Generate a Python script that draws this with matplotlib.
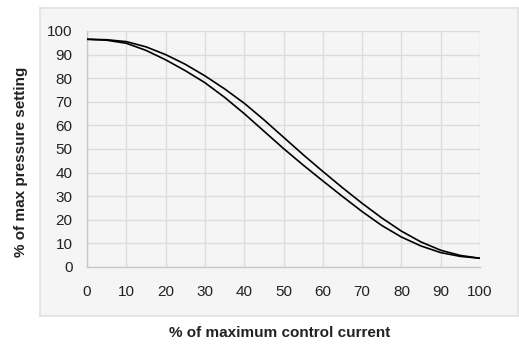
import matplotlib
matplotlib.use("Agg")
import matplotlib.pyplot as plt

plt.rcParams['font.family'] = ['Liberation Sans', 'DejaVu Sans']

current = [0, 5, 10, 15, 20, 25, 30, 35, 40, 45, 50, 55, 60, 65, 70, 75, 80, 85, 90, 95, 100]
pressure_up = [96.5, 96.3, 95.5, 93.3, 90.0, 85.9, 81.0, 75.5, 69.4, 62.4, 55.0, 47.6, 40.5,
               33.6, 27.0, 20.8, 15.2, 10.6, 7.1, 4.9, 3.7]
pressure_down = [96.5, 96.1, 94.8, 91.8, 87.8, 83.2, 78.1, 71.9, 65.0, 57.6, 50.2, 43.2, 36.5,
                 29.9, 23.5, 17.6, 12.7, 8.9, 6.1, 4.5, 3.7]
x_ticks = [0, 10, 20, 30, 40, 50, 60, 70, 80, 90, 100]
y_ticks = [0, 10, 20, 30, 40, 50, 60, 70, 80, 90, 100]
x_label = "% of maximum control current"
y_label = "% of max pressure setting"

W, H = 519, 344
fig = plt.figure(figsize=(W / 100, H / 100), dpi=100)
fig.patch.set_facecolor('white')

# outer chart panel (background axes)
bg = fig.add_axes([40 / W, 1 - 316 / H, (518 - 40) / W, (316 - 8) / H])
bg.set_zorder(0)
bg.set_facecolor('#f5f5f5')
bg.set_xticks([])
bg.set_yticks([])
for s in bg.spines.values():
    s.set_color('#e2e2e2')
    s.set_linewidth(1.2)

ax = fig.add_axes([87 / W, 1 - 267 / H, (480 - 87) / W, (267 - 31) / H])
ax.set_zorder(1)
ax.set_facecolor('#f5f5f5')
for series in (pressure_up, pressure_down):
    ax.plot(current, series, color='black', linewidth=1.2, zorder=3,
            solid_joinstyle='round', solid_capstyle='round')

ax.set_xlim(0, 100)
ax.set_ylim(0, 100)
ax.set_xticks(x_ticks)
ax.set_yticks(y_ticks)
ax.grid(True, color='#dcdcdc', linewidth=1.0)
ax.set_axisbelow(True)
for s in ['top', 'right']:
    ax.spines[s].set_visible(False)
for s in ['left', 'bottom']:
    ax.spines[s].set_color('#c8c8c8')
    ax.spines[s].set_linewidth(1.0)
ax.tick_params(axis='both', length=0, labelsize=11, colors='#222222')
ax.tick_params(axis='y', pad=10.5)
ax.tick_params(axis='x', pad=13)

fig.text(280 / W, 1 - 333 / H, x_label, ha='center', va='center',
         fontsize=11, fontweight='bold', color='#222222')
fig.text(21.5 / W, 1 - 162 / H, y_label, ha='center', va='center', rotation=90,
         fontsize=11, fontweight='bold', color='#222222')

fig.savefig('out.png', dpi=100, facecolor='white')
